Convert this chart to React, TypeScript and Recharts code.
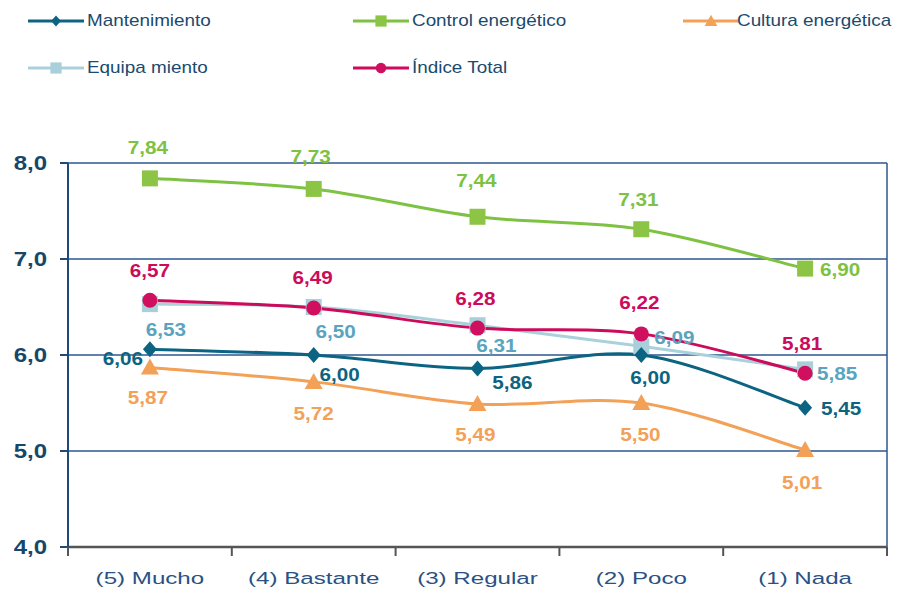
import React from 'react';
import { LineChart, Line, XAxis, YAxis, CartesianGrid } from 'recharts';

// ---------- data ----------
const categories = ['(5) Mucho', '(4) Bastante', '(3) Regular', '(2) Poco', '(1) Nada'];
const mantenimiento = [6.06, 6.0, 5.86, 6.0, 5.45];
const controlEnergetico = [7.84, 7.73, 7.44, 7.31, 6.9];
const culturaEnergetica = [5.87, 5.72, 5.49, 5.5, 5.01];
const equipamiento = [6.53, 6.5, 6.31, 6.09, 5.85];
const indiceTotal = [6.57, 6.49, 6.28, 6.22, 5.81];
const yTicks = [4, 5, 6, 7, 8];
const seriesNames = ['Mantenimiento', 'Control energético', 'Cultura energética', 'Equipa miento', 'Índice Total'];

const data = categories.map((cat, i) => ({
  cat,
  mant: mantenimiento[i],
  ctrl: controlEnergetico[i],
  cult: culturaEnergetica[i],
  equi: equipamiento[i],
  ind: indiceTotal[i],
}));

// ---------- layout / style ----------
const W = 898;
const H = 589;
const PLOT_LEFT = 68;
const PLOT_RIGHT = 887;
const PLOT_TOP = 163;
const PLOT_BOTTOM = 547;
const HALF_BAND = (PLOT_RIGHT - PLOT_LEFT) / categories.length / 2;
const FONT = 'Liberation Sans, Arial, Helvetica, sans-serif';

type Kind = 'diamond' | 'square' | 'triangle' | 'circle';

interface SeriesStyle {
  key: string;
  nameIdx: number;
  values: number[];
  color: string;
  markerColor: string;
  labelColor: string;
  kind: Kind;
  offsets: [number, number][];
}

const seriesStyles: SeriesStyle[] = [
  {
    key: 'equi', nameIdx: 3, values: equipamiento, color: '#A9D1DC', markerColor: '#A9CFDA', labelColor: '#5AA4BF', kind: 'square',
    offsets: [[16, 25], [22, 25], [19, 20], [33, -9], [32, 4]],
  },
  {
    key: 'cult', nameIdx: 2, values: culturaEnergetica, color: '#F2A157', markerColor: '#F2A157', labelColor: '#F2A157', kind: 'triangle',
    offsets: [[-2, 30], [0, 32], [-2, 31], [-1, 32], [-3, 32]],
  },
  {
    key: 'mant', nameIdx: 0, values: mantenimiento, color: '#0C6482', markerColor: '#0C6482', labelColor: '#0C6482', kind: 'diamond',
    offsets: [[-27, 9], [26, 20], [35, 14], [9, 23], [36, 1]],
  },
  {
    key: 'ctrl', nameIdx: 1, values: controlEnergetico, color: '#7DC242', markerColor: '#8CC545', labelColor: '#7DC242', kind: 'square',
    offsets: [[-2, -31], [-3, -32], [-1, -36], [-3, -30], [35, 1]],
  },
  {
    key: 'ind', nameIdx: 4, values: indiceTotal, color: '#CC0B5B', markerColor: '#D0105E', labelColor: '#CC0B5B', kind: 'circle',
    offsets: [[0, -30], [-1, -30], [-2, -30], [-2, -31], [-3, -30]],
  },
];

const legendOrder = [
  { nameIdx: 0, lineX: 28, y: 21, textX: 87 },
  { nameIdx: 1, lineX: 353, y: 21, textX: 412 },
  { nameIdx: 2, lineX: 683, y: 21, textX: 737 },
  { nameIdx: 3, lineX: 28, y: 68, textX: 87 },
  { nameIdx: 4, lineX: 353, y: 68, textX: 412 },
];

const fmt = (v: number, d: number) => v.toFixed(d).replace('.', ',');

// Excel-like smoothed line (Catmull-Rom style bezier)
const smoothCurve = (context: any) => {
  let pts: [number, number][] = [];
  return {
    areaStart() {},
    areaEnd() {},
    lineStart() {
      pts = [];
    },
    point(x: number, y: number) {
      pts.push([+x, +y]);
    },
    lineEnd() {
      const n = pts.length;
      if (!n) return;
      context.moveTo(pts[0][0], pts[0][1]);
      for (let i = 0; i < n - 1; i++) {
        const p0 = pts[Math.max(i - 1, 0)];
        const p1 = pts[i];
        const p2 = pts[i + 1];
        const p3 = pts[Math.min(i + 2, n - 1)];
        context.bezierCurveTo(
          p1[0] + (p2[0] - p0[0]) / 6,
          p1[1] + (p2[1] - p0[1]) / 6,
          p2[0] - (p3[0] - p1[0]) / 6,
          p2[1] - (p3[1] - p1[1]) / 6,
          p2[0],
          p2[1]
        );
      }
    },
  };
};

const MarkerShape = ({ kind, cx, cy, color, k = 1 }: { kind: Kind; cx: number; cy: number; color: string; k?: number }) => {
  switch (kind) {
    case 'diamond':
      return <polygon points={`${cx},${cy - 8 * k} ${cx + 7 * k},${cy} ${cx},${cy + 8 * k} ${cx - 7 * k},${cy}`} fill={color} />;
    case 'square':
      return <rect x={cx - 8 * k} y={cy - 8 * k} width={16 * k} height={16 * k} fill={color} />;
    case 'triangle':
      return <polygon points={`${cx},${cy - 9 * k} ${cx + 9 * k},${cy + 7 * k} ${cx - 9 * k},${cy + 7 * k}`} fill={color} />;
    default:
      return <circle cx={cx} cy={cy} r={7.5 * k} fill={color} />;
  }
};

const SText = ({ x, y, sx, anchor = 'middle', children, ...rest }: any) => (
  <text
    transform={`translate(${x},${y}) scale(${sx},1)`}
    textAnchor={anchor}
    dy="0.36em"
    fontFamily={FONT}
    {...rest}
  >
    {children}
  </text>
);

const makeDot = (s: SeriesStyle) => (p: any) => {
  const { cx, cy, index } = p;
  if (cx == null || cy == null) return <g key={`d-${s.key}-${index}`} />;
  const [dx, dy] = s.offsets[index] || [0, -30];
  return (
    <g key={`d-${s.key}-${index}`}>
      <MarkerShape kind={s.kind} cx={cx} cy={cy} color={s.markerColor} />
      <SText x={cx + dx} y={cy + dy} sx={1.15} fontSize={18} fontWeight="bold" fill={s.labelColor}>
        {fmt(s.values[index], 2)}
      </SText>
    </g>
  );
};

const YTick = (p: any) => {
  const { x, y, payload } = p;
  return (
    <SText x={x} y={y} sx={1.2} anchor="end" fontSize={20} fontWeight="bold" fill="#17466B">
      {fmt(payload.value, 1)}
    </SText>
  );
};

const XTick = (p: any) => {
  const { x, payload, index } = p;
  const last = index === categories.length - 1;
  return (
    <g>
      <line x1={x - HALF_BAND} x2={x - HALF_BAND} y1={PLOT_BOTTOM} y2={PLOT_BOTTOM + 9} stroke="#555555" strokeWidth={2} />
      {last && (
        <line x1={x + HALF_BAND} x2={x + HALF_BAND} y1={PLOT_BOTTOM} y2={PLOT_BOTTOM + 9} stroke="#555555" strokeWidth={2} />
      )}
      <SText x={x} y={PLOT_BOTTOM + 31} sx={1.42} fontSize={17} fill="#2A5183">
        {payload.value}
      </SText>
    </g>
  );
};

const LegendIcon = ({ s }: { s: SeriesStyle }) => (
  <svg width={56} height={20} style={{ display: 'block' }}>
    <line x1={0} x2={56} y1={10} y2={10} stroke={s.color} strokeWidth={3} />
    <MarkerShape kind={s.kind} cx={28} cy={10} color={s.markerColor} k={0.7} />
  </svg>
);

export default function App() {
  return (
    <div style={{ position: 'absolute', left: 0, top: 0, width: W, height: H, background: '#ffffff', fontFamily: FONT }}>
      <LineChart
        width={W}
        height={H}
        data={data}
        margin={{ top: PLOT_TOP, right: W - PLOT_RIGHT, bottom: 0, left: 0 }}
      >
        <CartesianGrid
          horizontal
          vertical
          verticalPoints={[PLOT_RIGHT]}
          stroke="#2E5690"
          strokeWidth={1.5}
        />
        <XAxis
          dataKey="cat"
          height={H - PLOT_BOTTOM}
          padding={{ left: HALF_BAND, right: HALF_BAND }}
          interval={0}
          tickLine={false}
          tickSize={0}
          tickMargin={0}
          axisLine={{ stroke: '#555555', strokeWidth: 2.5 }}
          tick={<XTick />}
        />
        <YAxis
          width={PLOT_LEFT}
          domain={[4, 8]}
          ticks={yTicks}
          interval={0}
          tickSize={8}
          tickMargin={13}
          axisLine={{ stroke: '#1F4A75', strokeWidth: 2 }}
          tickLine={{ stroke: '#1F4A75', strokeWidth: 2 }}
          tick={<YTick />}
        />
        {seriesStyles.map((s) => (
          <Line
            key={s.key}
            dataKey={s.key}
            name={seriesNames[s.nameIdx]}
            type={smoothCurve as any}
            stroke={s.color}
            strokeWidth={3}
            dot={makeDot(s)}
            activeDot={false}
            isAnimationActive={false}
          />
        ))}
      </LineChart>
      {legendOrder.map((l) => {
        const s = seriesStyles.find((ss) => ss.nameIdx === l.nameIdx)!;
        return (
          <React.Fragment key={l.nameIdx}>
            <div style={{ position: 'absolute', left: l.lineX, top: l.y - 10 }}>
              <LegendIcon s={s} />
            </div>
            <div
              style={{
                position: 'absolute',
                left: l.textX,
                top: l.y,
                fontSize: 17,
                color: '#1B4A6E',
                whiteSpace: 'nowrap',
                lineHeight: '20px',
                transform: 'translateY(-50%) scaleX(1.11)',
                transformOrigin: 'left center',
              }}
            >
              {seriesNames[l.nameIdx]}
            </div>
          </React.Fragment>
        );
      })}
    </div>
  );
}
